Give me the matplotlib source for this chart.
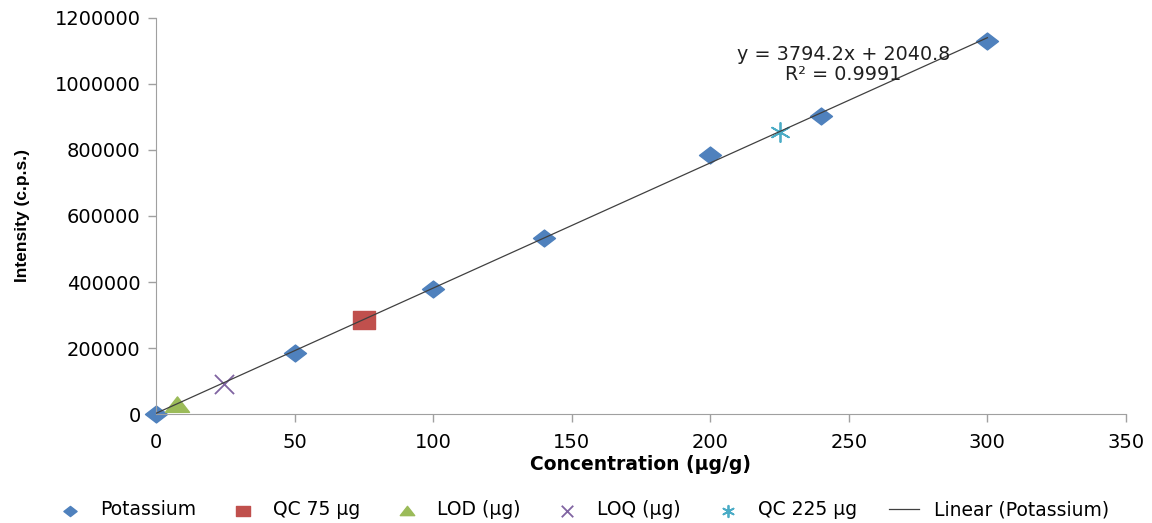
import numpy as np
import matplotlib.pyplot as plt
from matplotlib.path import Path

# calibration data, potassium standards
conc = [0, 50, 100, 140, 200, 240, 300]
intensity = [0, 185000, 379000, 534000, 785000, 903000, 1130000]

# check samples
qc75_x = [75]
qc75_y = [285000]
lod_x = [7.5]
lod_y = [28000]
loq_x = [24.5]
loq_y = [91000]
qc225_x = [225]
qc225_y = [855000]

slope = 3794.2
intercept = 2040.8
r2 = 0.9991

xticks = [0, 50, 100, 150, 200, 250, 300, 350]
yticks = [0, 200000, 400000, 600000, 800000, 1000000, 1200000]

# slightly wide diamond / square / triangle markers
diamond = Path([(-1.3, 0), (0, 1), (1.3, 0), (0, -1), (-1.3, 0)],
               [Path.MOVETO, Path.LINETO, Path.LINETO, Path.LINETO, Path.CLOSEPOLY])
square = Path([(-1.25, -1), (1.25, -1), (1.25, 1), (-1.25, 1), (-1.25, -1)],
              [Path.MOVETO, Path.LINETO, Path.LINETO, Path.LINETO, Path.CLOSEPOLY])
triangle = Path([(-1.4, -0.8), (1.4, -0.8), (0, 1), (-1.4, -0.8)],
                [Path.MOVETO, Path.LINETO, Path.LINETO, Path.CLOSEPOLY])

fig = plt.figure(figsize=(11.52, 5.23), dpi=100)
ax = fig.add_axes([0.1354, 0.2084, 0.8420, 0.7572])

xfit = np.array([0, 300])
ax.plot(xfit, slope * xfit + intercept, color='#404040', lw=0.9,
        label='Linear (Potassium)', zorder=3)

ax.scatter(conc, intensity, marker=diamond, s=250, color='#4F81BD',
           label='Potassium', zorder=2, clip_on=False)
ax.scatter(qc75_x, qc75_y, marker=square, s=260, color='#C0504D',
           label='QC 75 µg', zorder=2, clip_on=False)
ax.scatter(lod_x, lod_y, marker=triangle, s=300, color='#9BBB59',
           label='LOD (µg)', zorder=2, clip_on=False)
ax.scatter(loq_x, loq_y, marker='x', s=190, color='#8064A2', lw=1.3,
           label='LOQ (µg)', zorder=2, clip_on=False)
ax.scatter(qc225_x, qc225_y, marker=(6, 2, 0), s=190, color='#4BACC6', lw=1.3,
           label='QC 225 µg', zorder=2, clip_on=False)

ax.text(248, 1090000, 'y = %.1fx + %.1f' % (slope, intercept),
        ha='center', va='center', fontsize=13.8, color='#202020')
ax.text(248, 1030000, 'R² = %.4f' % r2,
        ha='center', va='center', fontsize=13.8, color='#202020')

ax.set_xlim(0, 350)
ax.set_ylim(0, 1200000)
ax.set_xticks(xticks)
ax.set_yticks(yticks)
ax.set_xticklabels([str(v) for v in xticks])
ax.set_yticklabels([str(v) for v in yticks])
ax.tick_params(axis='both', labelsize=14, colors='#A0A0A0', labelcolor='black',
               length=6, width=1)
ax.tick_params(axis='y', pad=5)
ax.tick_params(axis='x', pad=8)

for side in ['top', 'right']:
    ax.spines[side].set_visible(False)
for side in ['left', 'bottom']:
    ax.spines[side].set_color('#A0A0A0')

ax.set_xlabel('Concentration (µg/g)', fontsize=13.5, fontweight='bold', labelpad=2)
ax.set_ylabel('Intensity (c.p.s.)', fontsize=12.5, fontweight='bold', labelpad=18,
              family=['Liberation Sans', 'DejaVu Sans'])

handles, labels = ax.get_legend_handles_labels()
order = [1, 2, 3, 4, 5, 0]
fig.legend([handles[i] for i in order], [labels[i] for i in order],
           loc='center', bbox_to_anchor=(0.505, 0.025), ncol=6, frameon=False,
           fontsize=13.5, markerscale=0.6, handlelength=1.6, columnspacing=1.7)

fig.savefig('out.png', dpi=100)
